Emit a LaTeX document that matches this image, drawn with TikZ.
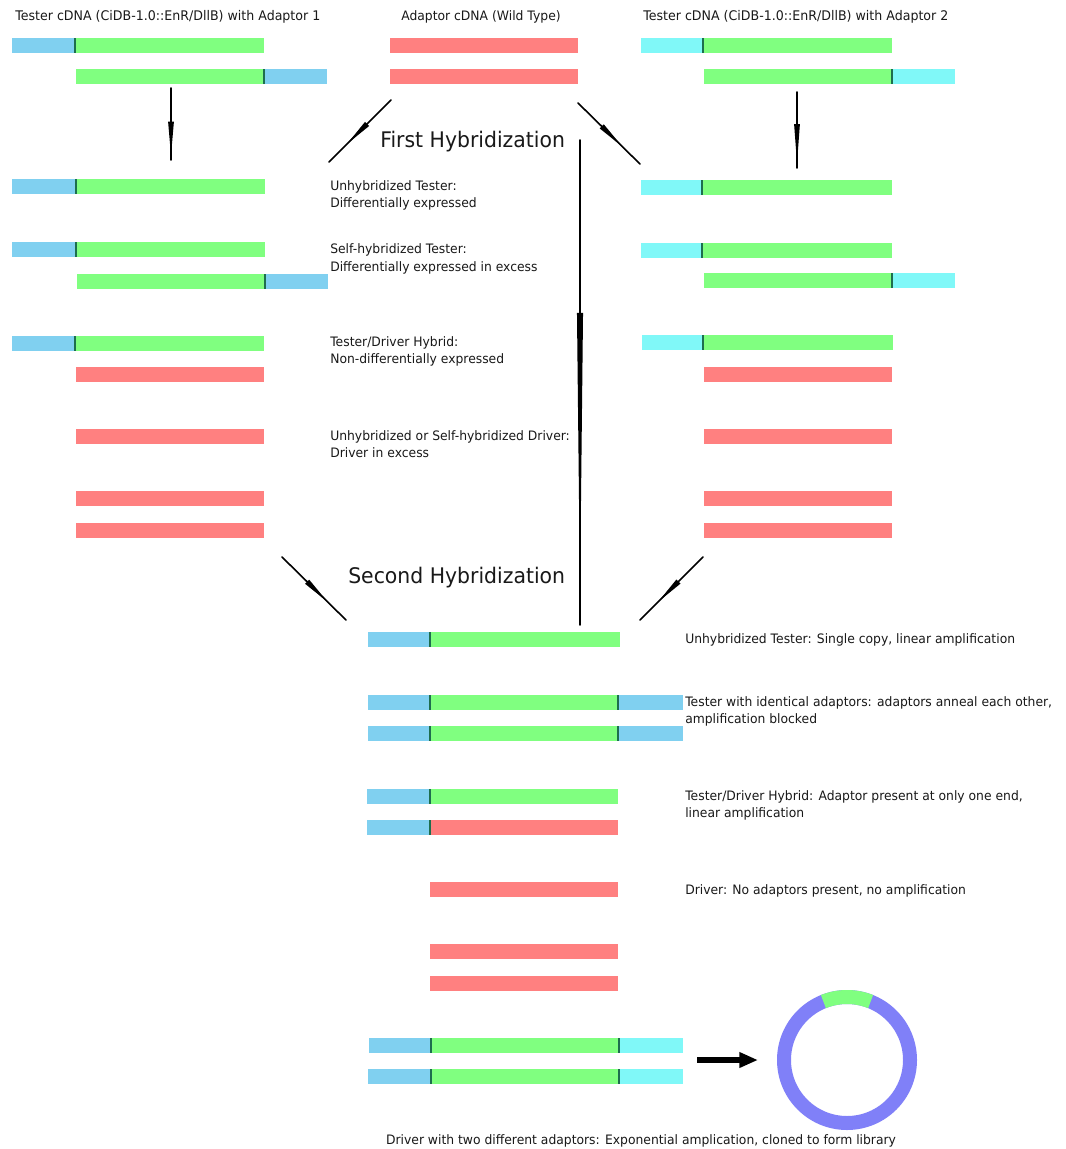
\documentclass[tikz,border=0pt]{standalone}
\usepackage{fontspec}
\setmainfont[FakeStretch=0.95]{DejaVu Sans}
\usetikzlibrary{arrows.meta,decorations.markings}
\definecolor{adone}{HTML}{80D0F0}
\definecolor{adtwo}{HTML}{80F8F8}
\definecolor{grn}{HTML}{80FF80}
\definecolor{red}{HTML}{FF8080}
\definecolor{divc}{HTML}{1E6E4E}
\definecolor{ringc}{HTML}{8080F8}
\newcommand\dseg[4]{\fill[#1] (#2,#4-7.5) rectangle (#3,#4+7.5);}
\newcommand\dtick[2]{\fill[divc] (#1-1.2,#2-7.5) rectangle (#1+1.2,#2+7.5);}
\begin{document}
\begin{tikzpicture}[x=0.75pt,y=-0.75pt,
  lbl/.style={anchor=base west, inner sep=0pt, font=\fontsize{9.75pt}{12pt}\selectfont, text=black!90},
  lblc/.style={lbl, anchor=base},
  head/.style={anchor=base west, inner sep=0pt, font=\fontsize{16.1pt}{19pt}\selectfont, text=black!90},
  flow/.style={line width=1.2pt, line cap=round},
  marr/.style n args={3}{postaction=decorate, decoration={markings, mark=at position #1 with {\arrow{Triangle[length=#2, width=#3]}}}}]
\fill[white] (0,0) rectangle (1065,1149);
\useasboundingbox (0,0) rectangle (1065,1149);

% ---------- titles ----------
\node[lbl, font=\fontsize{9.95pt}{12pt}\selectfont] (t1) at (15,20.5) {Tester cDNA (CiDB-1.0::EnR/DllB) with Adaptor 1};
\node[lbl] (t2) at (401,20.5) {Adaptor cDNA (Wild Type)};
\node[lbl, font=\fontsize{9.95pt}{12pt}\selectfont] (t3) at (643,20.5) {Tester cDNA (CiDB-1.0::EnR/DllB) with Adaptor 2};

% ---------- top bars ----------
\dseg{adone}{12}{75}{46}\dseg{grn}{75}{264}{46}\dtick{75}{46}
\dseg{grn}{76}{264}{77}\dseg{adone}{264}{327}{77}\dtick{264}{77}
\dseg{red}{390}{578}{46}
\dseg{red}{390}{578}{77}
\dseg{adtwo}{641}{703}{46}\dseg{grn}{703}{892}{46}\dtick{703}{46}
\dseg{grn}{704}{892}{77}\dseg{adtwo}{892}{955}{77}\dtick{892}{77}

% ---------- left column after first hybridization ----------
\dseg{adone}{12}{76}{186}\dseg{grn}{76}{265}{186}\dtick{76}{186}
\dseg{adone}{12}{76}{249}\dseg{grn}{76}{265}{249}\dtick{76}{249}
\dseg{grn}{77}{265}{281}\dseg{adone}{265}{328}{281}\dtick{265}{281}
\dseg{adone}{12}{75}{343}\dseg{grn}{75}{264}{343}\dtick{75}{343}
\dseg{red}{76}{264}{374}
\dseg{red}{76}{264}{436}
\dseg{red}{76}{264}{498}
\dseg{red}{76}{264}{530}

% ---------- right column after first hybridization ----------
\dseg{adtwo}{641}{702}{187}\dseg{grn}{702}{892}{187}\dtick{702}{187}
\dseg{adtwo}{641}{702}{250}\dseg{grn}{702}{892}{250}\dtick{702}{250}
\dseg{grn}{704}{892}{280}\dseg{adtwo}{892}{955}{280}\dtick{892}{280}
\dseg{adtwo}{642}{703}{342}\dseg{grn}{703}{893}{342}\dtick{703}{342}
\dseg{red}{704}{892}{374}
\dseg{red}{704}{892}{436}
\dseg{red}{704}{892}{498}
\dseg{red}{704}{892}{530}

% ---------- middle labels ----------
\node[head] (h1) at (380,147) {First Hybridization};
\node[lbl] (m1a) at (330,190.5) {Unhybridized Tester:};
\node[lbl] (m1b) at (330,207.5) {Differentially expressed};
\node[lbl] (m2a) at (330,253.5) {Self-hybridized Tester:};
\node[lbl] (m2b) at (330,271.5) {Differentially expressed in excess};
\node[lbl] (m3a) at (330,346.5) {Tester/Driver Hybrid:};
\node[lbl] (m3b) at (330,363.5) {Non-differentially expressed};
\node[lbl] (m4a) at (330,440.5) {Unhybridized or Self-hybridized Driver:};
\node[lbl] (m4b) at (330,457.5) {Driver in excess};
\node[head] (h2) at (348,583) {Second Hybridization};

% ---------- bottom centre column ----------
\dseg{adone}{368}{430}{639}\dseg{grn}{430}{620}{639}\dtick{430}{639}
\dseg{adone}{368}{430}{702}\dseg{grn}{430}{618}{702}\dseg{adone}{618}{683}{702}\dtick{430}{702}\dtick{618}{702}
\dseg{adone}{368}{430}{733}\dseg{grn}{430}{618}{733}\dseg{adone}{618}{683}{733}\dtick{430}{733}\dtick{618}{733}
\dseg{adone}{367}{430}{796}\dseg{grn}{430}{618}{796}\dtick{430}{796}
\dseg{adone}{367}{430}{827}\dseg{red}{430}{618}{827}\dtick{430}{827}
\dseg{red}{430}{618}{889}
\dseg{red}{430}{618}{951}
\dseg{red}{430}{618}{983}
\dseg{adone}{369}{431}{1045}\dseg{grn}{431}{619}{1045}\dseg{adtwo}{619}{683}{1045}\dtick{431}{1045}\dtick{619}{1045}
\dseg{adone}{368}{431}{1076}\dseg{grn}{431}{619}{1076}\dseg{adtwo}{619}{683}{1076}\dtick{431}{1076}\dtick{619}{1076}

% ---------- right labels ----------
\node[lbl] (r1) at (685,643.5) {Unhybridized Tester: Single copy, linear amplification};
\node[lbl] (r2a) at (685,706.5) {Tester with identical adaptors: adaptors anneal each other,};
\node[lbl] (r2b) at (685,723.5) {amplification blocked};
\node[lbl] (r3a) at (685,800.5) {Tester/Driver Hybrid: Adaptor present at only one end,};
\node[lbl] (r3b) at (685,817.5) {linear amplification};
\node[lbl] (r4) at (685,894.5) {Driver: No adaptors present, no amplification};
\node[lblc] (cap) at (641,1144.5) {Driver with two different adaptors: Exponential amplication, cloned to form library};

% ---------- ring (library) ----------
\node[circle, minimum size=94.5pt, inner sep=0pt] (lib) at (847,1060) {};
\draw[ringc, line width=10.5pt] (lib.center) circle[radius=47.25pt];
\draw[grn, line width=10.5pt] (lib.center) ++(68:47.25pt) arc[start angle=68, end angle=112, radius=47.25pt];

% ---------- connector end points ----------
\coordinate (a1s) at (171,88);   \coordinate (a1e) at (171,160);
\coordinate (a2s) at (797,92);   \coordinate (a2e) at (797,168);
\coordinate (a3s) at (391,100);  \coordinate (a3e) at (329,162);
\coordinate (a4s) at (578,103);  \coordinate (a4e) at (640,164);
\coordinate (a5s) at (282,557);  \coordinate (a5e) at (346,620);
\coordinate (a6s) at (703,557);  \coordinate (a6e) at (640,620);
\coordinate (a7s) at (580,140);  \coordinate (a7e) at (580,625);
\coordinate (a8s) at (697,1060); \coordinate (a8e) at (758,1060);

\draw[flow, marr={0.95}{26pt}{4pt}] (a1s) -- (a1e);
\draw[flow, marr={0.95}{30pt}{4pt}] (a2s) -- (a2e);
\draw[flow, marr={0.72}{22pt}{4pt}] (a3s) -- (a3e);
\draw[flow, marr={0.72}{22pt}{4pt}] (a4s) -- (a4e);
\draw[flow, marr={0.72}{22pt}{4pt}] (a5s) -- (a5e);
\draw[flow, marr={0.72}{22pt}{4pt}] (a6s) -- (a6e);
\draw[flow, marr={0.95}{216pt}{4.2pt}] (a7s) -- (a7e);
\draw[line width=4.5pt, -{Triangle[length=14pt, width=11pt]}] (a8s) -- (a8e);
\end{tikzpicture}
\end{document}
